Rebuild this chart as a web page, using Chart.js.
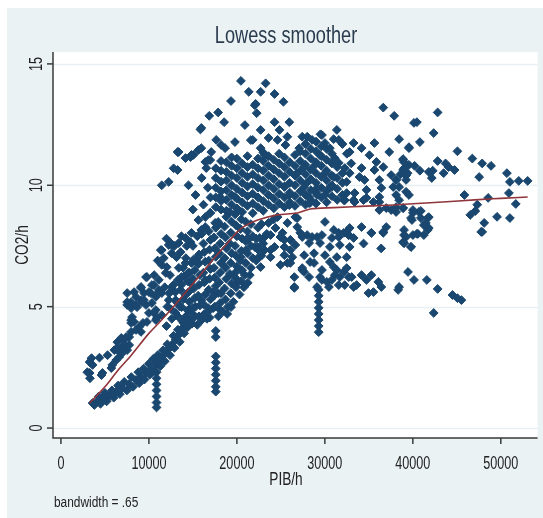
<!DOCTYPE html>
<html>
<head>
<meta charset="utf-8">
<title>Lowess smoother</title>
<script src="https://cdn.jsdelivr.net/npm/chart.js@4.4.1/dist/chart.umd.min.js"></script>
<style>
  html, body { margin: 0; padding: 0; background: #ffffff; }
  #wrap { position: relative; width: 543px; height: 518px; }
</style>
</head>
<body>
<div id="wrap"><canvas id="chart" width="543" height="518"></canvas></div>
<script>
// Axis ticks
const xTicks = [0, 10000, 20000, 30000, 40000, 50000];
const yTicks = [0, 5, 10, 15];

// Observations: [PIB per head, CO2 per head]
const observations = [
  // low-income tail, upper branch
  [3000,2.3],[3300,2.05],[3260,2.72],[3480,2.88],[3600,2.6],[3260,2.27],[4720,2.27],[4610,2.18],[5730,2.47],[5840,2.6],
  [6290,2.8],[6630,2.93],[6070,3.21],[6410,3.21],[6860,3.3],[6970,3.09],[7190,3.42],[7530,3.21],[7760,3.42],[6410,3.54],
  [6860,3.71],[7420,3.75],[7980,3.96],[8540,4.04],[7980,4.33],[8320,4.37],[8880,4.16],[9330,4.33],[9780,4.37],[9100,3.96],
  [8090,4.57],[7530,5.07],[7980,5.19],[8540,5.07],[8540,5.4],[9100,5.27],[9670,5.07],[9440,5.56],[10000,4.74],[10570,4.74],
  [10900,4.53],[10230,5.56],[10790,5.48],[7530,5.56],[8320,5.6],[6410,3.3],[7190,3.63],[7760,3.75],[7980,4.45],[7530,5.19],
  [9220,5.19],[7980,4.94],[9670,6.22],[10000,5.6],[9100,5.77],[11130,5.69],[11460,6.72],[12250,7.54],[11350,7.33],[12590,7.2],
  [11910,6.39],[11130,6.1],[10570,5.89],[10790,4.86],[11460,4.65],[10790,4.45],[13040,4.74],[13150,5.19],[13600,5.69],[14160,5.48],
  [14720,5.98],[14840,6.8],[14500,6.39],[15620,7.04],[16410,6.1],[17310,5.6],[17310,4.94],[16750,4.94],[15960,5.27],[17870,5.56],
  [19330,4.98],[18210,6.8],[19780,6.39],[20460,7.04],[21240,7.75],[21020,7.33],[22370,7.46],[23150,7.87],[23830,7.33],[25400,7.75],
  [26080,7.33],[26530,5.77],[25740,6.8],[9100,5.81],[9780,6.22],[10340,5.89],[10790,5.4],[9440,5.27],[8650,4.98],[11460,7.33],
  [12480,7.62],[12030,6.63],[13150,7.04],[13600,7.25],[14720,7.66],[14160,6.8],[15620,6.8],[16410,8.69],[16970,8.86],[17870,8.49],
  [19000,8.9],[20120,8.98],[18100,9.52],[19780,9.52],[13710,6.22],[12590,5.81],[12250,5.27],[11460,5.56],[13040,5.27],[13710,4.98],
  [10340,5.15],[4380,2.9],[5300,3.0],[10600,6.3],[11000,6.9],[11700,7.0],[12000,7.8],[12900,7.5],[13700,7.9],[14300,7.5],
  [15000,7.5],[15500,7.9],[16000,8.0],[12800,5.9],[13300,6.1],[13000,5.6],[12500,4.9],[13500,5.0],[13900,5.3],[13700,5.9],
  [13300,4.6],[12100,5.0],[11800,5.8],[12400,6.3],[13900,6.6],[14200,7.0],[13400,6.6],
  [12000,4.2],[12600,4.5],[14900,4.3],[15500,4.25],[16000,4.45],[16900,4.55],[18000,4.9],[18900,4.7],[12300,5.55],[14000,6.25],
  // low-income tail, lower branch
  [3600,1.03],[4050,1.07],[4720,1.24],[5510,1.32],[6290,1.48],[6970,1.65],[7760,1.81],[8540,1.98],[9100,2.1],[9670,2.27],
  [10230,2.43],[10790,2.6],[11130,2.72],[11460,2.93],[11910,3.09],[12250,3.26],[12590,3.42],[13040,3.63],[13380,3.83],[13710,4.08],
  [13940,4.33],[4300,1.3],[5000,1.45],[5800,1.55],[6500,1.75],[7200,1.9],[8000,2.1],[8800,2.3],[9400,2.45],[10000,2.65],
  [10500,2.85],[11000,3.0],[11600,3.2],[12100,3.45],[12800,3.8],[13300,4.05],[13800,4.4],[14200,4.6],[3800,0.95],[4500,1.0],
  [5200,1.1],[6000,1.25],[6700,1.4],[7500,1.55],[8200,1.7],[8900,1.85],[9500,2.0],[10100,2.2],[10600,2.35],[11300,2.55],
  [11800,2.75],[12400,3.0],[12900,3.3],[13500,3.55],[14000,3.9],[14400,4.15],[14700,4.4],[15000,4.7],[14600,4.9],[15300,5.0],
  // repeated-country columns
  [10870,2.3],[10870,2.05],[10870,1.8],[10870,1.55],[10870,1.3],[10870,1.05],[10870,0.85],
  [17600,4.0],[17600,3.75],[17600,2.95],[17600,2.7],[17600,2.45],[17600,2.2],[17600,1.95],[17600,1.7],[17600,1.5],
  [29300,5.7],[29300,5.45],[29300,5.2],[29300,4.95],[29300,4.7],[29300,4.45],[29300,4.2],[29300,3.95],
  // middle-income mass around the curve
  [14500,4.45],[14400,4.85],[14600,5.2],[14500,5.6],[14400,6.05],[14600,6.4],
  [15100,4.55],[15000,4.95],[15200,5.35],[15100,5.75],[15000,6.15],[15200,6.5],[15100,6.95],
  [15700,4.6],[15800,5.05],[15600,5.45],[15700,5.9],[15800,6.3],[15600,6.75],[15700,7.15],
  [16300,4.7],[16200,5.1],[16400,5.5],[16300,6.0],[16200,6.4],[16400,6.85],[16300,7.25],[16200,7.6],
  [16900,4.85],[17000,5.3],[16800,5.7],[16900,6.15],[17000,6.55],[16800,6.9],[16900,7.35],[17000,7.75],[16800,8.1],
  [17500,5.0],[17400,5.45],[17600,5.85],[17500,6.2],[17400,6.6],[17600,7.05],[17500,7.4],[17400,7.85],[17600,8.25],
  [18100,5.15],[18200,5.55],[18000,6.0],[18100,6.4],[18200,6.8],[18000,7.2],[18100,7.6],[18200,8.0],[18000,8.4],
  [18700,5.3],[18600,5.75],[18800,6.15],[18700,6.6],[18600,7.0],[18800,7.4],[18700,7.85],[18600,8.3],[18800,8.7],
  [19300,5.55],[19400,5.95],[19200,6.35],[19300,6.8],[19400,7.2],[19200,7.6],[19300,8.05],[19400,8.5],[19200,8.9],
  [19900,5.8],[19800,6.2],[20000,6.65],[19900,7.1],[19800,7.5],[20000,7.9],[19900,8.35],[19800,8.8],
  [20500,6.05],[20600,6.5],[20400,6.9],[20500,7.3],[20600,7.8],[20400,8.2],[20500,8.6],
  [19000,5.0],[19600,5.2],[20300,5.5],[20800,5.8],[18400,4.8],[17900,4.6],[16600,4.5],
  [20900,6.3],[21000,6.8],[21200,7.2],[21000,7.7],[21200,8.1],[21000,8.5],
  [21600,6.6],[21800,7.0],[21600,7.5],[21800,7.9],[21600,8.4],
  [22200,6.9],[22400,7.35],[22200,7.8],[22400,8.25],[22800,7.1],[23000,7.6],[22800,8.4],[23400,8.0],[23600,8.45],[24200,8.6],
  [16970,8.86],[16410,8.28],[17530,8.45],[15960,8.16],[14840,8.04],[14160,7.83],[15620,8.57],[13380,7.62],[12590,7.54],
  [14500,10.0],[15300,9.6],[16000,10.3],[16700,9.9],[15000,9.0],[16200,9.2],[17000,9.5],
  // high-emission branch
  [17600,9.1],[17600,9.5],[17600,9.9],[17600,10.3],[17600,10.7],
  [18200,9.0],[18200,9.35],[18200,9.75],[18200,10.15],[18200,10.6],[18200,11.0],
  [18800,8.95],[18800,9.4],[18800,9.8],[18800,10.2],[18800,10.55],[18800,10.95],
  [19400,9.2],[19400,9.6],[19400,10.0],[19400,10.4],[19400,10.8],[19400,11.15],
  [20000,9.05],[20000,9.45],[20000,9.85],[20000,10.3],[20000,10.7],[20000,11.1],
  [20600,8.9],[20600,9.3],[20600,9.7],[20600,10.1],[20600,10.5],[20600,10.9],
  [21200,9.15],[21200,9.55],[21200,9.95],[21200,10.35],[21200,10.75],[21200,11.2],
  [21800,8.85],[21800,9.25],[21800,9.65],[21800,10.05],[21800,10.45],[21800,10.85],
  [22400,9.1],[22400,9.5],[22400,9.9],[22400,10.3],[22400,10.7],[22400,11.1],
  [23000,8.95],[23000,9.35],[23000,9.8],[23000,10.2],[23000,10.6],[23000,11.0],[23000,11.35],
  [23600,9.2],[23600,9.6],[23600,10.0],[23600,10.4],[23600,10.8],[23600,11.2],
  [24200,9.05],[24200,9.45],[24200,9.85],[24200,10.25],[24200,10.65],[24200,11.05],
  [24800,9.25],[24800,9.65],[24800,10.05],[24800,10.5],[24800,10.9],[24800,11.3],
  [25400,9.1],[25400,9.5],[25400,9.95],[25400,10.35],[25400,10.75],[25400,11.15],
  [26000,9.3],[26000,9.7],[26000,10.1],[26000,10.55],[26000,10.95],
  [26600,9.15],[26600,9.55],[26600,10.0],[26600,10.4],[26600,10.8],[26600,11.25],
  [27200,9.35],[27200,9.75],[27200,10.2],[27200,10.6],[27200,11.0],[27200,11.4],
  [27800,9.2],[27800,9.6],[27800,10.05],[27800,10.45],[27800,10.85],[27800,11.3],[27800,11.7],
  [28400,9.4],[28400,9.8],[28400,10.25],[28400,10.65],[28400,11.1],[28400,11.5],
  [29000,9.25],[29000,9.7],[29000,10.1],[29000,10.5],[29000,10.95],[29000,11.4],[29000,11.8],
  [29600,9.5],[29600,9.9],[29600,10.35],[29600,10.8],[29600,11.2],[29600,11.6],
  [30200,9.3],[30200,9.75],[30200,10.2],[30200,10.6],[30200,11.05],[30200,11.5],
  [30800,9.55],[30800,10.0],[30800,10.4],[30800,10.9],[30800,11.3],
  [31400,9.4],[31400,9.85],[31400,10.3],[31400,10.75],[32000,9.6],[32000,10.1],[32000,10.5],
  [28000,12.0],[29500,12.1],[31000,11.9],[32000,11.7],[32500,11.3],[33000,10.9],
  // upper outliers
  [11460,10.0],[12250,10.14],[12810,10.7],[13260,11.37],[14160,11.12],[14720,11.16],[15060,11.25],[15620,11.45],[15960,11.53],[16410,10.96],
  [16750,11.04],[17090,11.37],[17650,11.87],[18210,11.66],[18550,12.6],[15960,12.36],[16860,12.86],[17870,13.0],[19330,13.47],[20460,14.3],
  [21350,13.85],[22030,13.3],[22250,12.97],[22700,13.85],[23270,14.2],[24280,13.76],[25290,13.44],[20910,12.48],[19780,11.78],[18660,11.53],
  [21580,11.86],[22700,12.28],[22700,11.53],[23600,11.95],[24280,12.6],[24840,12.28],[25740,12.0],[25960,12.6],[13260,10.63],[15850,12.3],
  [22140,13.35],[14840,11.25],[13380,11.37],[16970,11.04],[16520,10.71],[24620,11.87],[25520,11.66],[23150,11.25],[21800,11.87],
  // richer economies, upper group
  [36640,13.2],[37880,12.86],[40130,12.57],[31360,12.28],[27430,12.0],[28550,11.87],[29670,12.07],[30010,11.74],[31580,11.87],[30570,11.53],
  [27090,11.53],[33270,11.74],[35630,11.74],[34170,11.53],[38440,11.9],[37320,11.37],[39560,11.53],[32820,11.37],[29450,11.24],[31130,11.12],
  [35070,11.24],[35860,10.96],[31580,10.92],[32260,10.71],[28890,10.84],[27650,10.75],[26860,10.5],[30010,10.5],[31020,10.34],[32820,10.5],
  [34170,10.71],[35630,10.63],[36640,10.75],[38890,11.04],[37540,10.42],[38890,10.63],[39230,10.22],[38100,10.22],[36190,10.22],[34510,10.22],
  [32480,10.14],[28320,10.22],[27650,9.93],[29110,9.89],[30570,9.93],[33940,10.34],[34730,9.81],[36420,9.89],[37770,9.93],[39560,9.6],
  [29110,9.6],[30010,9.6],[32480,9.68],[33380,9.68],[34730,9.48],[36190,9.52],[38100,9.6],[32150,9.39],[33270,9.39],[28210,9.27],
  [36190,9.31],[38440,9.39],[25400,9.93],[25960,9.6],[25960,9.18],[28320,9.27],[30800,9.93],[32260,9.39],[33380,9.31],[34390,9.39],
  [35520,9.31],[36190,8.98],[36980,9.06],[37540,8.98],[38100,8.9],[38890,9.06],[40010,8.86],[40690,8.9],[39900,8.57],[40910,8.65],
  [41810,8.69],[41480,8.45],[41700,8.16],[41250,7.95],[40010,7.95],[39000,8.16],[38890,7.66],[36980,8.28],[36640,8.04],[34170,8.28],
  [35290,8.04],[32710,7.95],[30010,8.49],[27200,8.04],[27990,7.95],[29110,7.87],[31020,8.16],[31580,7.87],[32150,8.04],[32820,8.24],
  [25180,8.04],[26080,7.75],[26860,8.28],[26640,8.69],[24620,8.69],[25740,8.45],[24390,8.24],[26860,8.65],[28210,9.52],[32260,9.39],
  [42820,13.0],[40460,12.6],[42370,12.15],[40800,11.78],[39560,11.57],[45070,11.4],[38890,11.08],[46760,11.1],[42820,11.0],[47880,10.9],
  [48890,10.8],[43720,10.9],[44060,10.75],[44740,10.63],[40800,10.6],[41810,10.55],[42150,10.3],[39560,10.84],[39000,10.7],[39230,10.4],
  [43500,10.5],[42260,10.6],[47540,10.34],[50690,10.5],[51030,10.14],[52040,10.18],[53050,10.18],[38100,10.22],[38440,9.93],[39230,9.73],
  [50920,9.68],[45860,9.6],[48560,9.48],[38100,9.1],[38890,9.06],[47320,9.2],[51700,9.23],[46530,8.78],[47100,8.94],[49570,8.7],
  [51030,8.65],[40010,8.98],[40910,8.94],[39790,8.65],[41700,8.65],[41250,8.36],[41810,8.24],[48110,8.45],[47770,8.08],[39230,7.87],
  [40460,8.0],[39000,7.62],[39790,7.46],[39000,10.95],[39400,10.5],[40200,10.8],[38600,10.45],
  // richer economies, lower group
  [21240,7.83],[22590,7.83],[23830,7.95],[24950,7.87],[26080,7.75],[27430,7.87],[28550,7.87],[29670,7.95],[30800,7.83],[31580,8.04],
  [32480,8.08],[33270,7.83],[22030,7.46],[23150,7.33],[24280,7.46],[25400,7.46],[26640,7.54],[28210,7.62],[29450,7.62],[30570,7.46],
  [31700,7.54],[32820,7.46],[22370,7.0],[23830,7.04],[25400,7.12],[26300,7.04],[27650,7.12],[28770,7.2],[30010,7.12],[31360,7.04],
  [32480,7.04],[22700,6.63],[24950,6.72],[26080,6.8],[27430,6.59],[28770,6.8],[29670,6.51],[31020,6.63],[32150,6.43],[33050,6.22],
  [27650,6.43],[26530,6.22],[28210,6.22],[29670,6.1],[30800,6.1],[31580,5.89],[30460,5.81],[33270,5.81],[29110,5.81],[26530,5.81],
  [21240,5.98],[21470,6.3],[20460,6.51],[20120,6.0],[27430,6.51],[28320,6.84],[29450,6.22],[30240,6.02],[31130,6.3],[31700,6.22],
  [32260,5.89],[31360,6.51],[30570,6.84],[32480,6.59],[32710,6.22],[33610,5.89],[34170,6.3],[34730,6.1],[35290,6.3],[34960,5.56],
  [35520,5.6],[36080,6.02],[36420,5.81],[38330,5.69],[38440,5.81],[39450,6.43],[40130,6.1],[41590,6.1],[42820,5.73],[44510,5.48],
  [45070,5.35],[45520,5.27],[42370,4.74],[39000,7.62],[39790,7.46],[40580,8.0],[39000,7.95],[47880,8.08],[36640,8.08],[35290,8.04],
  [32710,7.95],[34400,7.6],[36400,7.4]
];

// Lowess fit, bandwidth .65
const lowessPib = [3260, 5000, 6600, 8000, 10000, 11130, 13040, 15600, 17540, 19000, 20120, 21000, 22370, 24620, 26870, 28330, 31000, 34000, 37780, 40000, 43400, 47000, 50000, 53050];
const lowessCo2 = [1.03, 1.7, 2.43, 3.0, 3.9, 4.33, 5.1, 6.2, 7.05, 7.65, 8.1, 8.35, 8.57, 8.78, 8.86, 9.02, 9.08, 9.13, 9.19, 9.24, 9.31, 9.4, 9.46, 9.52];

const navy = '#1a476f';
const maroon = '#90353b';
const FONT = '"Liberation Sans", Arial, sans-serif';

function drawLabel(ctx, text, x, y, size, kx, color, align, rot) {
  ctx.save();
  ctx.translate(x, y);
  if (rot) ctx.rotate(rot);
  ctx.scale(kx, 1);
  ctx.font = size + 'px ' + FONT;
  ctx.fillStyle = color;
  ctx.textAlign = align;
  ctx.textBaseline = 'alphabetic';
  ctx.fillText(text, 0, 0);
  ctx.restore();
}

const stataFrame = {
  id: 'stataFrame',
  beforeDraw(chart) {
    const { ctx, chartArea: a, scales } = chart;
    ctx.save();
    ctx.fillStyle = '#ffffff';
    ctx.fillRect(0, 0, chart.width, chart.height);
    ctx.fillStyle = '#eaf2f3';
    ctx.fillRect(7, 8, chart.width - 7, chart.height - 8);
    ctx.fillStyle = '#ffffff';
    ctx.fillRect(a.left, a.top, a.right - a.left, a.bottom - a.top);
    // horizontal grid
    ctx.strokeStyle = '#e6eff1';
    ctx.lineWidth = 1.5;
    yTicks.forEach(v => {
      const py = Math.round(scales.y.getPixelForValue(v)) + 0.5;
      ctx.beginPath();
      ctx.moveTo(a.left, py);
      ctx.lineTo(a.right, py);
      ctx.stroke();
    });
    ctx.restore();
  },
  afterDraw(chart) {
    const { ctx, chartArea: a, scales } = chart;
    ctx.save();
    ctx.strokeStyle = '#3a3a3a';
    ctx.lineWidth = 1.5;
    // axis lines
    ctx.beginPath();
    ctx.moveTo(a.left, a.top);
    ctx.lineTo(a.left, a.bottom);
    ctx.lineTo(a.right, a.bottom);
    ctx.stroke();
    // y ticks and labels
    yTicks.forEach(v => {
      const py = scales.y.getPixelForValue(v);
      ctx.beginPath();
      ctx.moveTo(a.left - 6, py);
      ctx.lineTo(a.left, py);
      ctx.stroke();
      drawLabel(ctx, String(v), 42, py, 18, 0.7, '#222222', 'center', -Math.PI / 2);
    });
    // x ticks and labels
    xTicks.forEach(v => {
      const px = scales.x.getPixelForValue(v);
      ctx.beginPath();
      ctx.moveTo(px, a.bottom);
      ctx.lineTo(px, a.bottom + 6);
      ctx.stroke();
      drawLabel(ctx, String(v), px, 469, 18, 0.7, '#222222', 'center', 0);
    });
    ctx.restore();
    drawLabel(ctx, 'Lowess smoother', 286, 43, 23, 0.79, '#2b3b4e', 'center', 0);
    drawLabel(ctx, 'PIB/h', 286, 485, 19, 0.72, '#222222', 'center', 0);
    drawLabel(ctx, 'CO2/h', 28, 245, 19, 0.72, '#222222', 'center', -Math.PI / 2);
    drawLabel(ctx, 'bandwidth = .65', 54, 507, 14, 0.85, '#222222', 'left', 0);
  }
};

new Chart(document.getElementById('chart'), {
  type: 'scatter',
  data: {
    datasets: [
      {
        type: 'line',
        label: 'Lowess',
        data: lowessPib.map((x, i) => ({ x, y: lowessCo2[i] })),
        borderColor: maroon,
        borderWidth: 1.6,
        pointRadius: 0,
        fill: false,
        cubicInterpolationMode: 'monotone',
        order: 0
      },
      {
        label: 'CO2/h',
        data: observations.map(p => ({ x: p[0], y: p[1] })),
        pointStyle: 'rectRot',
        pointRadius: 4.4,
        borderWidth: 1,
        backgroundColor: navy,
        borderColor: navy,
        order: 1
      }
    ]
  },
  options: {
    responsive: false,
    animation: false,
    events: [],
    layout: { padding: { left: 53, top: 52, right: 0, bottom: 80 } },
    plugins: { legend: { display: false }, tooltip: { enabled: false }, title: { display: false } },
    scales: {
      x: { type: 'linear', min: -900, max: 54180, display: false },
      y: { type: 'linear', min: -0.41, max: 15.49, display: false }
    }
  },
  plugins: [stataFrame]
});
</script>
</body>
</html>
